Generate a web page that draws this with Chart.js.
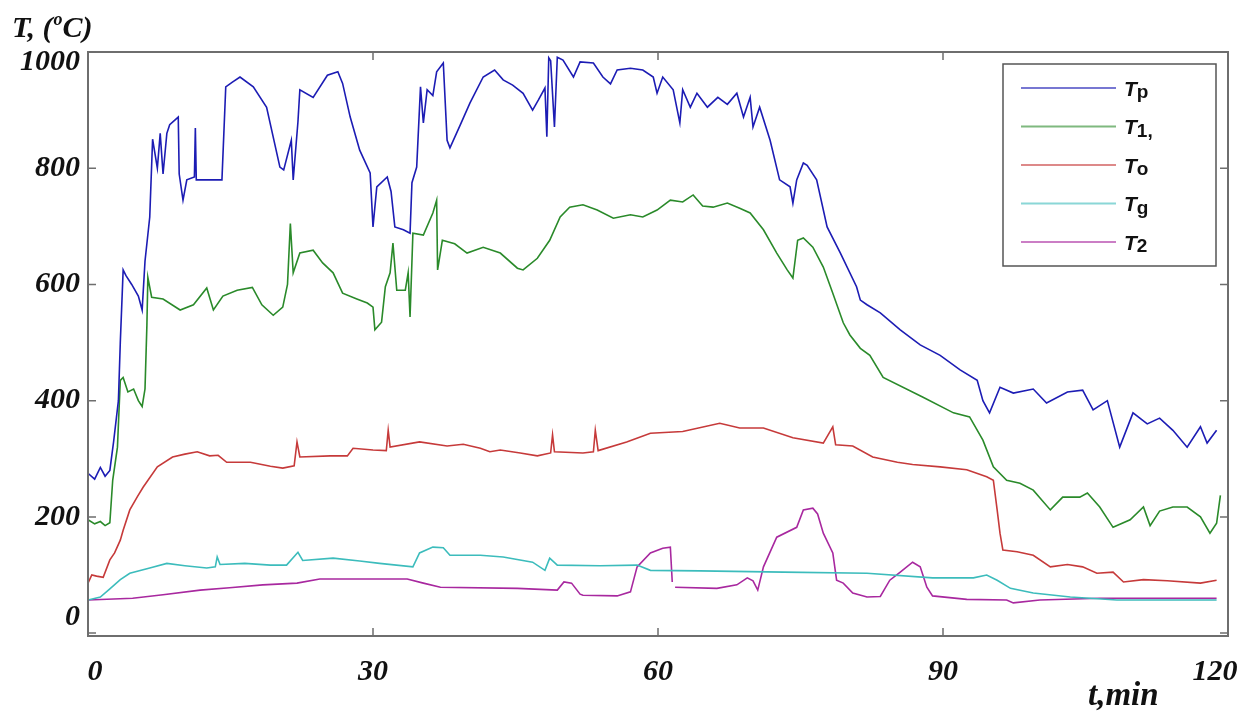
<!DOCTYPE html>
<html>
<head>
<meta charset="utf-8">
<script src="https://cdn.jsdelivr.net/npm/chart.js@4.4.0/dist/chart.umd.min.js"></script>
<style>
  html, body { margin: 0; padding: 0; background: #fff; }
  #chart { display: block; }
</style>
</head>
<body>
<canvas id="chart" width="1250" height="711"></canvas>
<script>
// Axis ticks
const xTicks = [0, 30, 60, 90, 120];
const yTicks = [0, 200, 400, 600, 800, 1000];

// Series labels and colours
const seriesLabels = ['Tp', 'T1,', 'To', 'Tg', 'T2'];
const seriesColors = ['#1c1cb4', '#2a8a2a', '#c63a3a', '#3cbcbc', '#a8289f'];

// Tp
const tpTime = [0, 0.7, 1.3, 1.8, 2.3, 2.7, 3.2, 3.4, 3.7, 4.0,
  4.6, 5.3, 5.7, 6.0, 6.5, 6.8, 7.3, 7.6, 7.9, 8.3,
  8.6, 9.5, 9.6, 10.0, 10.4, 11.2, 11.3, 11.4, 14.1, 14.5,
  15.2, 16.0, 17.4, 18.8, 20.2, 20.6, 21.4, 21.6, 22.1, 22.3,
  23.7, 25.2, 26.3, 26.8, 27.6, 28.6, 29.7, 30.0, 30.4, 31.5,
  31.9, 32.3, 33.2, 33.9, 34.1, 34.6, 35.0, 35.3, 35.7, 36.3,
  36.7, 37.4, 37.8, 38.1, 39.2, 40.2, 41.6, 42.8, 43.7, 44.7,
  45.8, 46.8, 47.4, 48.1, 48.3, 48.5, 48.7, 49.1, 49.4, 50.0,
  51.1, 51.8, 53.2, 54.2, 55.0, 55.7, 57.1, 58.4, 59.5, 59.9,
  60.5, 61.6, 62.3, 62.6, 63.4, 64.1, 65.2, 66.3, 67.3, 68.3,
  69.0, 69.7, 70.0, 70.7, 71.8, 72.8, 73.9, 74.2, 74.6, 75.3,
  75.7, 76.7, 77.8, 79.2, 80.9, 81.3, 82.0, 83.4, 85.5, 87.6,
  89.7, 91.8, 93.6, 94.2, 94.9, 96.0, 97.4, 99.5, 100.9, 103.1,
  104.7, 105.8, 107.3, 108.6, 110.0, 111.5, 112.8, 114.2, 115.7, 117.1,
  117.8, 118.8];
const tpTemp = [275, 265, 285, 270, 280, 330, 400, 500, 625, 615,
  600, 580, 556, 640, 716, 850, 800, 860, 790, 860,
  875, 888, 790, 745, 780, 785, 869, 780, 780, 940,
  948, 957, 940, 905, 802, 797, 848, 780, 880, 935,
  922, 960, 966, 946, 888, 831, 792, 699, 768, 785,
  760, 699, 694, 688, 775, 802, 940, 878, 935, 925,
  966, 981, 848, 835, 875, 912, 957, 969, 952, 943,
  929, 900, 917, 938, 854, 990, 985, 871, 991, 986,
  957, 983, 981, 957, 945, 969, 972, 969, 957, 929,
  957, 935, 878, 935, 905, 929, 905, 922, 910, 929,
  888, 922, 871, 905, 848, 780, 768, 740, 780, 809,
  805, 780, 699, 654, 596, 573, 565, 551, 522, 496,
  478, 453, 435, 400, 379, 423, 413, 420, 396, 415,
  418, 384, 400, 320, 379, 360, 370, 349, 320, 355,
  327, 349];

// T1
const t1Time = [0, 0.7, 1.3, 1.8, 2.3, 2.6, 3.1, 3.4, 3.7, 4.2,
  4.8, 5.3, 5.7, 6.0, 6.2, 6.3, 6.7, 7.9, 9.7, 11.1,
  12.5, 13.2, 14.2, 15.7, 17.3, 18.3, 19.5, 20.5, 21.0, 21.3,
  21.6, 22.3, 23.7, 24.7, 25.8, 26.8, 28.3, 29.4, 30.0, 30.2,
  30.9, 31.3, 31.8, 32.1, 32.5, 33.4, 33.7, 33.9, 34.2, 35.3,
  36.3, 36.7, 36.8, 37.3, 38.6, 39.9, 41.6, 43.4, 45.2, 45.8,
  47.3, 48.6, 49.7, 50.7, 52.1, 53.6, 55.3, 57.1, 58.4, 59.9,
  61.3, 62.6, 63.7, 64.7, 65.8, 67.3, 68.6, 69.7, 71.1, 72.5,
  73.6, 74.2, 74.7, 75.3, 76.3, 77.4, 78.4, 79.5, 80.2, 81.3,
  82.3, 83.7, 87.9, 91.1, 92.8, 94.2, 95.3, 96.7, 98.1, 99.5,
  101.3, 102.6, 104.4, 105.2, 106.5, 107.9, 109.7, 111.1, 111.8, 112.8,
  114.2, 115.7, 117.1, 118.1, 118.8, 119.2];
const t1Temp = [195, 188, 192, 185, 190, 263, 320, 435, 440, 415,
  420, 400, 390, 420, 530, 612, 578, 575, 556, 565,
  594, 556, 580, 590, 595, 565, 547, 561, 600, 705,
  620, 654, 659, 637, 620, 585, 575, 568, 561, 522,
  535, 596, 620, 671, 590, 590, 620, 544, 688, 685,
  723, 745, 625, 676, 670, 654, 664, 654, 628, 625,
  645, 676, 716, 733, 737, 728, 714, 720, 716, 728,
  745, 742, 754, 735, 733, 740, 731, 723, 694, 654,
  625, 611, 676, 680, 664, 630, 585, 534, 513, 490,
  478, 440, 406, 379, 372, 332, 286, 263, 258, 246,
  212, 234, 234, 241, 217, 182, 195, 217, 185, 210,
  217, 217, 200, 172, 189, 237];

// To
const toTime = [0, 0.4, 0.9, 1.6, 2.3, 2.8, 3.4, 3.7, 4.4, 5.2,
  5.8, 7.3, 8.9, 10.2, 11.5, 12.8, 13.7, 14.6, 17.1, 19.2,
  20.5, 21.7, 22.0, 22.3, 25.5, 27.3, 27.9, 30.0, 31.4, 31.6,
  31.8, 34.9, 37.8, 39.5, 41.3, 42.3, 43.4, 45.5, 47.3, 48.7,
  48.9, 49.1, 52.1, 53.2, 53.4, 53.7, 56.7, 59.2, 62.6, 66.5,
  68.6, 71.1, 74.2, 77.4, 78.4, 78.7, 80.5, 82.6, 85.2, 86.8,
  89.7, 92.5, 94.6, 95.3, 95.7, 96.0, 96.3, 97.8, 99.5, 101.3,
  103.1, 104.7, 106.2, 107.9, 109.0, 111.1, 113.6, 117.1, 118.8];
const toTemp = [86, 100, 98, 96, 126, 138, 160, 177, 212, 235,
  251, 286, 303, 308, 312, 305, 306, 294, 294, 287,
  284, 288, 329, 303, 305, 305, 318, 315, 314, 349,
  320, 329, 322, 325, 318, 312, 315, 310, 305, 310,
  341, 312, 310, 312, 349, 314, 329, 344, 347, 361,
  353, 353, 336, 327, 355, 324, 322, 303, 294, 290,
  286, 281, 269, 263, 212, 172, 143, 140, 134, 114,
  118, 114, 103, 105, 88, 92, 90, 86, 91];

// Tg
const tgTime = [0, 1.3, 2.3, 3.4, 4.4, 6.5, 8.3, 10.2, 12.5, 13.4,
  13.6, 13.9, 16.5, 19.2, 20.9, 22.1, 22.6, 25.8, 28.6, 30.7,
  34.2, 34.9, 36.3, 37.4, 38.1, 41.3, 43.7, 46.8, 48.1, 48.6,
  49.4, 53.9, 57.8, 59.2, 64.4, 73.2, 82.0, 88.9, 93.2, 94.6,
  95.7, 97.1, 99.5, 103.4, 108.3, 118.8];
const tgTemp = [57, 62, 76, 92, 103, 112, 120, 116, 112, 114,
  131, 118, 120, 117, 117, 139, 125, 129, 124, 120,
  114, 138, 148, 147, 134, 134, 131, 122, 108, 129,
  117, 116, 117, 108, 107, 105, 103, 95, 95, 100,
  91, 77, 69, 62, 57, 57];

// T2 (null = break in the record)
const t2Time = [0, 4.7, 7.9, 11.8, 14.9, 18.4, 22.0, 24.4, 33.6, 35.3,
  37.1, 45.2, 49.4, 50.1, 50.9, 51.8, 52.1, 55.7, 57.1, 57.8,
  59.2, 60.5, 61.3, 61.5, 61.65, 61.8, 66.2, 68.3, 69.4, 70.0,
  70.5, 71.1, 72.5, 74.6, 75.3, 76.3, 76.8, 77.4, 78.4, 78.8,
  79.5, 80.5, 82.0, 83.4, 84.4, 85.5, 86.8, 87.6, 88.3, 88.9,
  92.5, 96.7, 97.4, 100.2, 106.5, 118.8];
const t2Temp = [57, 60, 66, 74, 78, 83, 86, 93, 93, 86,
  79, 77, 74, 88, 86, 67, 65, 64, 71, 114,
  138, 146, 148, 88, null, 79, 77, 83, 95, 90,
  74, 114, 165, 182, 212, 215, 205, 172, 138, 91,
  86, 69, 62, 63, 91, 105, 122, 114, 79, 64,
  58, 57, 52, 57, 60, 60];

const seriesTimes = [tpTime, t1Time, toTime, tgTime, t2Time];
const seriesTemps = [tpTemp, t1Temp, toTemp, tgTemp, t2Temp];

const serifFont = '"Liberation Serif", "Times New Roman", serif';
const sansFont = '"Liberation Sans", Arial, sans-serif';

// Frame, inward ticks, tick labels, titles and legend drawn over the chart
const decorPlugin = {
  id: 'decor',
  afterDraw(chart) {
    const ctx = chart.ctx;
    const area = chart.chartArea;
    const xs = chart.scales.x;
    const ys = chart.scales.y;
    ctx.save();

    // frame
    ctx.strokeStyle = '#6e6e6e';
    ctx.lineWidth = 2;
    ctx.strokeRect(area.left, area.top, area.right - area.left, area.bottom - area.top);

    // inward ticks
    ctx.lineWidth = 1.5;
    ctx.beginPath();
    yTicks.forEach(v => {
      const y = ys.getPixelForValue(v);
      ctx.moveTo(area.left, y); ctx.lineTo(area.left + 8, y);
      ctx.moveTo(area.right, y); ctx.lineTo(area.right - 8, y);
    });
    xTicks.slice(1, -1).forEach(v => {
      const x = xs.getPixelForValue(v);
      ctx.moveTo(x, area.bottom); ctx.lineTo(x, area.bottom - 8);
      ctx.moveTo(x, area.top); ctx.lineTo(x, area.top + 8);
    });
    ctx.stroke();

    // tick labels (end labels pulled inward as in the original)
    ctx.fillStyle = '#111';
    ctx.font = 'italic bold 30px ' + serifFont;
    ctx.textBaseline = 'middle';
    ctx.textAlign = 'right';
    yTicks.forEach((v, i) => {
      let y = ys.getPixelForValue(v);
      if (i === 0) y -= 16;
      if (i === yTicks.length - 1) y += 10;
      ctx.fillText(String(v), area.left - 8, y);
    });
    ctx.textAlign = 'center';
    xTicks.forEach((v, i) => {
      let x = xs.getPixelForValue(v);
      if (i === 0) x += 7;
      if (i === xTicks.length - 1) x -= 13;
      ctx.fillText(String(v), x, area.bottom + 36);
    });

    // axis titles
    ctx.textBaseline = 'alphabetic';
    ctx.textAlign = 'left';
    ctx.font = 'italic bold 30px ' + serifFont;
    let tx = 12;
    ctx.fillText('T, (', tx, 37);
    tx += ctx.measureText('T, (').width;
    ctx.font = 'italic bold 18px ' + serifFont;
    ctx.fillText('o', tx + 1, 25);
    tx += ctx.measureText('o').width + 1;
    ctx.font = 'italic bold 30px ' + serifFont;
    ctx.fillText('C)', tx, 37);

    ctx.font = 'italic bold 33px ' + serifFont;
    ctx.fillText('t,min', 1088, 705);

    // legend
    const bx = area.right - 225, by = area.top + 12, bw = 213, bh = 202;
    ctx.fillStyle = '#fff';
    ctx.fillRect(bx, by, bw, bh);
    ctx.strokeStyle = '#555';
    ctx.lineWidth = 1.5;
    ctx.strokeRect(bx, by, bw, bh);
    chart.data.datasets.forEach((ds, i) => {
      const ly = by + 24 + i * 38.5;
      ctx.strokeStyle = ds.borderColor;
      ctx.globalAlpha = 0.6;
      ctx.lineWidth = 2;
      ctx.beginPath();
      ctx.moveTo(bx + 18, ly);
      ctx.lineTo(bx + 113, ly);
      ctx.stroke();
      ctx.globalAlpha = 1;
      ctx.fillStyle = '#111';
      ctx.textBaseline = 'middle';
      ctx.font = 'italic bold 21px ' + sansFont;
      ctx.fillText(ds.label.charAt(0), bx + 121, ly + 2);
      const w = ctx.measureText(ds.label.charAt(0)).width;
      ctx.font = 'bold 19px ' + sansFont;
      ctx.fillText(ds.label.slice(1), bx + 121 + w, ly + 5);
    });

    ctx.restore();
  }
};

const datasets = seriesLabels.map((label, i) => ({
  label: label,
  data: seriesTimes[i].map((t, k) => ({ x: t, y: seriesTemps[i][k] })),
  borderColor: seriesColors[i],
  borderWidth: 1.6,
  pointRadius: 0,
  tension: 0,
  spanGaps: false
}));

new Chart(document.getElementById('chart').getContext('2d'), {
  type: 'line',
  data: { datasets: datasets },
  options: {
    responsive: false,
    animation: false,
    devicePixelRatio: 1,
    layout: { padding: { top: 52, right: 22, left: 0, bottom: 0 } },
    plugins: {
      legend: { display: false },
      tooltip: { enabled: false }
    },
    scales: {
      x: {
        type: 'linear',
        min: 0,
        max: 120,
        afterBuildTicks: axis => { axis.ticks = xTicks.map(v => ({ value: v })); },
        afterFit: axis => { axis.height = 75; },
        ticks: { display: false },
        grid: { display: false, drawTicks: false },
        border: { display: false }
      },
      y: {
        type: 'linear',
        min: -5,
        max: 1000,
        afterBuildTicks: axis => { axis.ticks = yTicks.map(v => ({ value: v })); },
        afterFit: axis => { axis.width = 88; },
        ticks: { display: false },
        grid: { display: false, drawTicks: false },
        border: { display: false }
      }
    }
  },
  plugins: [decorPlugin]
});
</script>
</body>
</html>
